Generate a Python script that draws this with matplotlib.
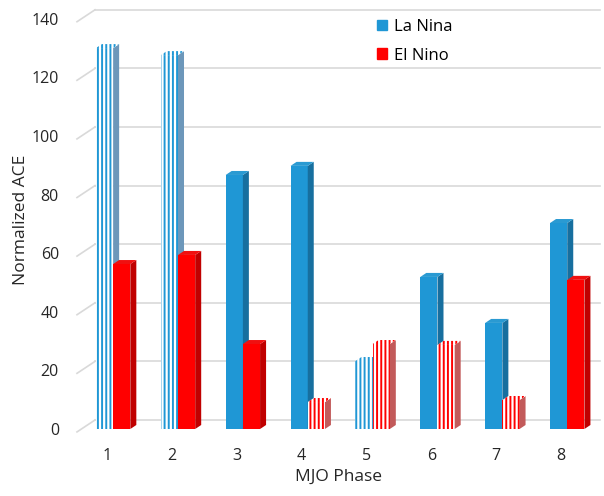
import matplotlib
matplotlib.use('Agg')
import matplotlib.pyplot as plt
from matplotlib.patches import Polygon, Patch

# values (front edge of each column)
phases = [1, 2, 3, 4, 5, 6, 7, 8]
la_nina = [130.0, 127.6, 86.7, 89.8, 23.2, 51.9, 36.2, 70.3]
el_nino = [56.3, 59.4, 29.0, 9.2, 29.0, 28.7, 9.9, 50.9]
# which columns are drawn with vertical stripes
la_nina_striped = [True, True, False, False, True, False, False, False]
el_nino_striped = [False, False, False, True, True, True, True, False]
yticks = [0, 20, 40, 60, 80, 100, 120, 140]

plt.rcParams['font.family'] = ['Open Sans', 'DejaVu Sans']
plt.rcParams['hatch.linewidth'] = 1.4

blue = {'front': '#1f97d5', 'side': '#176f9f', 'top': '#2a9ad2',
        'side_striped': '#6d97ba'}
red = {'front': '#ff0000', 'side': '#c00000', 'top': '#f01010',
       'side_striped': '#c25a5a'}

fig = plt.figure(figsize=(6.04, 4.96), dpi=100)
W, H = 604, 496
ax = fig.add_axes([77 / W, 67 / H, 523 / W, 419 / H])
xl, xr = 0.538, 8.60
ax.set_xlim(xl, xr)
ax.set_ylim(0, 143)

# 3d depth of the columns in data units
dx = 6 / 64.9
dy = 4 / 2.93
wall_dy = 9 / 2.93
wall_x = xl + 18 / 64.9
grid_col = '#d9d9d9'

# back wall gridlines with the slanted side-wall piece
for v in yticks:
    ax.plot([xl, wall_x], [v - 1, v + wall_dy], color=grid_col, lw=1.2, zorder=0, clip_on=False)
    ax.plot([wall_x, xr], [v + wall_dy, v + wall_dy], color=grid_col, lw=1.2, zorder=0, clip_on=False)


def column(x0, w, h, cols, striped, z):
    if striped:
        ax.bar(x0, h, width=w, align='edge', facecolor='white', edgecolor=cols['front'],
               hatch='||||', lw=0, zorder=z)
        side_kw = dict(facecolor=cols['side_striped'], edgecolor='none')
        top_kw = dict(facecolor='white', edgecolor=cols['front'], hatch='||||', lw=0)
    else:
        ax.bar(x0, h, width=w, align='edge', color=cols['front'], lw=0, zorder=z)
        side_kw = dict(facecolor=cols['side'], edgecolor='none')
        top_kw = dict(facecolor=cols['top'], edgecolor='none')
    ax.add_patch(Polygon([(x0 + w, 0), (x0 + w + dx, dy), (x0 + w + dx, h + dy), (x0 + w, h)],
                         zorder=z, **side_kw))
    ax.add_patch(Polygon([(x0, h), (x0 + dx, h + dy), (x0 + w + dx, h + dy), (x0 + w, h)],
                         zorder=z, **top_kw))


bw = 0.265
for i, p in enumerate(phases):
    start = p - 0.17
    column(start, bw, la_nina[i], blue, la_nina_striped[i], 2)
    column(start + bw, bw, el_nino[i], red, el_nino_striped[i], 3)

for s in ax.spines.values():
    s.set_visible(False)
ax.set_xticks(phases)
ax.set_xticklabels([str(p) for p in phases])
ax.set_yticks(yticks)
ax.set_yticklabels([str(v) for v in yticks])
ax.tick_params(axis='both', length=0, labelsize=11.5, colors='#262626')
ax.tick_params(axis='y', pad=13)
ax.tick_params(axis='x', pad=14)
ax.set_xlabel('MJO Phase', fontsize=12.5, color='#262626', labelpad=3)
ax.set_ylabel('Normalized ACE', fontsize=12.5, color='#262626', labelpad=2)

handles = [Patch(color=blue['front'], label='La Nina'), Patch(color=red['front'], label='El Nino')]
fig.legend(handles=handles, loc='upper left', bbox_to_anchor=(377 / W, 1 - 19 / H),
           frameon=False, fontsize=12, handlelength=0.6, handleheight=0.6,
           handletextpad=0.4, labelspacing=0.75, borderpad=0, borderaxespad=0)

fig.savefig('out.png', dpi=100)
